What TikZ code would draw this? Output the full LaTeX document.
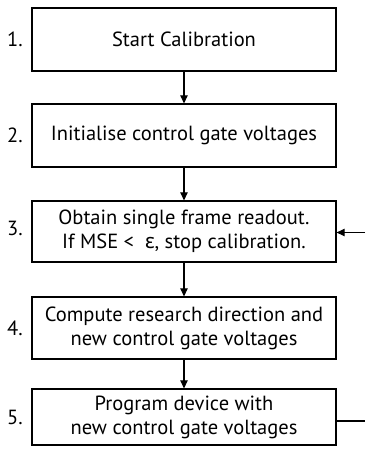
\documentclass[tikz,border=0pt]{standalone}
\usepackage{fontspec}
\setmainfont{PT Sans}
\newfontfamily\grk{Noto Sans}
\usetikzlibrary{arrows.meta}
\begin{document}
\begin{tikzpicture}[x=1pt,y=-1pt,
  stepbox/.style={draw, line width=1.3pt, minimum width=304pt, align=center, font=\fontsize{20.5}{24}\selectfont, inner sep=0pt},
  numlbl/.style={font=\fontsize{20.5}{24}\selectfont, anchor=center},
  conn/.style={line width=1.1pt, -{Triangle[length=8pt,width=7.5pt]}},
  plain/.style={line width=1.1pt}]
\useasboundingbox (0,0) rectangle (365,455);
\node[stepbox, minimum height=63pt] (b1) at (184,39.5) {Start Calibration};
\node[stepbox, minimum height=63pt] (b2) at (184,135.5) {Initialise control gate voltages};
\node[stepbox, minimum height=61pt] (b3) at (184,231.5) {Obtain single frame readout.\\If MSE <\ \ {\grk ε}, stop calibration.};
\node[stepbox, minimum height=62pt] (b4) at (184,328) {Compute research direction and\\new control gate voltages};
\node[stepbox, minimum height=56pt] (b5) at (184,417) {Program device with\\new control gate voltages};
\node[numlbl] (n1) at (15,39.5) {1.};
\node[numlbl] (n2) at (15,135.5) {2.};
\node[numlbl] (n3) at (15,228) {3.};
\node[numlbl] (n4) at (15,328) {4.};
\node[numlbl] (n5) at (15,417) {5.};
\draw[conn] (b1) -- (b2);
\draw[conn] (b2) -- (b3);
\draw[conn] (b3) -- (b4);
\draw[conn] (b4) -- (b5);
\coordinate (r5) at (365,421);
\coordinate (r3) at (365,232.5);
\draw[plain] (b5.east |- r5) -- (r5);
\draw[conn] (r3) -- (b3.east |- r3);
\end{tikzpicture}
\end{document}
